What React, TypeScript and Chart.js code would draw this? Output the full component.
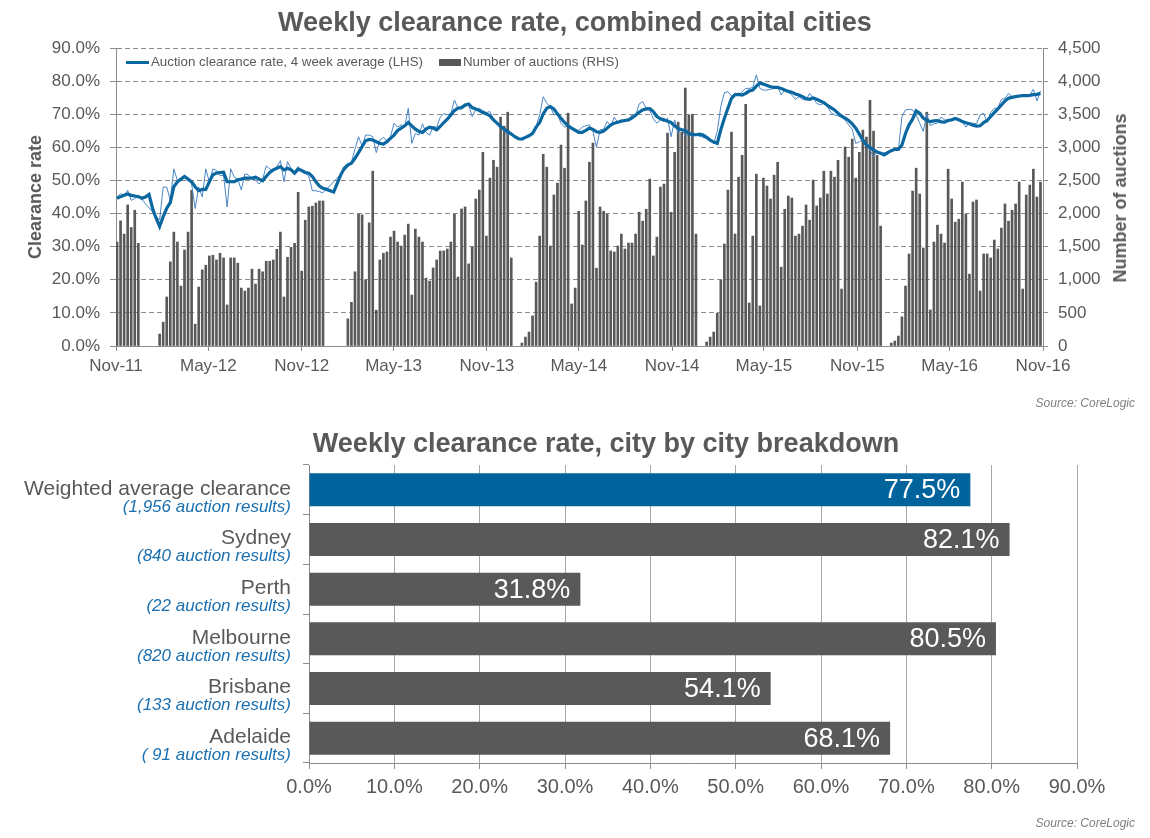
import React, { useEffect, useRef } from 'react';
import { Chart, registerables } from 'chart.js';

Chart.register(...registerables);

const FONT = '"Liberation Sans", Arial, Helvetica, sans-serif';
const TEXT = '#595959';
const AXIS = '#8c8c8c';
const BAR_GREY = '#595959';
const AVG_BLUE = '#0a67a0';
const WEEKLY_BLUE = '#4a86c8';
const BAR_BLUE = '#00639b';
const SUB_BLUE = '#1a6fb0';

// ---------- Top chart data ----------
const tickLabels = ['Nov-11', 'May-12', 'Nov-12', 'May-13', 'Nov-13', 'May-14', 'Nov-14', 'May-15', 'Nov-15', 'May-16', 'Nov-16'];
const tickDates = ['2011-11-01', '2012-05-01', '2012-11-01', '2013-05-01', '2013-11-01', '2014-05-01', '2014-11-01', '2015-05-01', '2015-11-01', '2016-05-01', '2016-11-01'];
const firstWeekDate = '2011-11-03';

// Number of auctions per week (RHS)
const auctions: (number | null)[] = [
  1570, 1890, 1690, 2130, 1790, 2050, 1550, null, null, null,
  null, null, 180, 360, 740, 1270, 1720, 1570, 905, 1450,
  1720, 2350, 330, 890, 1150, 1220, 1360, 1370, 1300, 1400,
  1330, 620, 1330, 1330, 1250, 875, 830, 875, 1160, 935,
  1160, 1120, 1280, 1280, 1300, 1460, 1720, 740, 1340, 1490,
  1550, 2320, 1130, 1900, 2100, 2110, 2160, 2190, 2190, null,
  null, null, null, null, null, 410, 660, 1120, 1990, 1980,
  1000, 1860, 2640, 540, 1300, 1400, 1420, 1645, 1735, 1570,
  1510, 1675, 1840, 770, 1765, 1645, 1570, 1025, 980, 1180,
  1300, 1435, 1435, 1465, 1570, 1990, 1040, 2070, 2100, 1240,
  1495, 2220, 2355, 2925, 1660, 2535, 2805, 2700, 3455, 3320,
  3530, 1330, null, null, 45, 135, 210, 455, 965, 1660,
  2895, 2700, 1510, 2280, 2460, 3035, 2685, 3515, 635, 875,
  2035, 1525, 2190, 2775, 3065, 1175, 2100, 2035, 1990, 1435,
  1420, 1510, 1690, 1465, 1555, 1555, 1690, 2020, 1885, 2065,
  2520, 1360, 1645, 2400, 2445, 3215, 2020, 2925, 3380, 3230,
  3895, 3485, 3500, 1690, null, null, 60, 135, 210, 495,
  995, 1540, 2355, 3230, 1690, 2550, 2880, 3650, 650, 1660,
  2595, 605, 2535, 2415, 2220, 2580, 2775, 1190, 2065, 2265,
  2235, 1660, 1690, 1810, 2130, 1900, 2505, 2115, 2235, 2640,
  2295, 2640, 2550, 2805, 860, 3005, 2850, 3125, 2535, 2925,
  3260, 3155, 3710, 3245, 2880, 1810, null, null, 45, 75,
  150, 440, 905, 1390, 2340, 2685, 2295, 1480, 3530, 545,
  1570, 1825, 1690, 1555, 2670, 2220, 1870, 1915, 2475, 1990,
  1085, 2175, 2205, 830, 1390, 1390, 1330, 1600, 1465, 1780,
  2145, 1885, 2050, 2145, 2475, 860, 2280, 2430, 2670, 2250,
  2475,
];

// Auction clearance rate, 4 week average (LHS, %)
const avgRate: (number | null)[] = [
  44.6, 45.1, 45.5, 45.9, 45.5, 45.3, 45.1, 44.6, 45.0, 45.8,
  41.6, 38.6, 36.1, 39.1, 41.6, 43.3, 48.1, 49.6, 50.4, 51.2,
  50.4, 49.6, 48.1, 46.9, 47.3, 47.3, 49.6, 51.7, 52.2, 52.4,
  52.5, 49.6, 49.6, 49.6, 50.2, 50.4, 50.7, 50.7, 50.7, 51.0,
  50.4, 49.9, 51.2, 52.4, 53.2, 53.7, 54.2, 53.2, 53.7, 53.2,
  52.2, 53.4, 53.0, 52.4, 52.2, 51.2, 49.6, 48.3, 47.6, 47.3,
  46.9, 46.5, 49.1, 51.7, 53.7, 54.7, 55.2, 56.7, 58.4, 60.2,
  62.0, 62.4, 62.2, 61.7, 61.2, 61.0, 61.7, 62.7, 63.7, 65.1,
  65.8, 66.5, 67.5, 66.5, 65.5, 64.8, 64.5, 65.5, 66.1, 65.8,
  65.3, 66.3, 67.5, 68.5, 69.8, 71.1, 71.8, 72.0, 72.8, 73.1,
  72.0, 71.6, 71.1, 70.5, 70.1, 69.5, 68.3, 67.3, 66.3, 65.5,
  64.8, 64.0, 63.2, 62.6, 62.5, 63.0, 63.5, 64.2, 66.1, 67.5,
  70.1, 71.8, 72.3, 71.6, 70.1, 68.8, 67.5, 66.5, 65.8, 65.1,
  64.5, 64.5, 65.1, 65.8, 65.4, 64.7, 64.5, 64.9, 65.8, 66.7,
  67.3, 67.6, 67.9, 68.1, 68.3, 68.9, 69.7, 70.6, 71.3, 71.6,
  71.7, 70.8, 69.3, 68.6, 68.3, 67.9, 67.5, 66.5, 65.7, 65.3,
  65.1, 64.2, 63.9, 63.8, 64.0, 63.7, 63.0, 62.2, 61.6, 61.2,
  65.3, 68.8, 71.8, 74.8, 75.9, 76.0, 75.8, 76.3, 77.0, 77.3,
  78.5, 79.4, 79.1, 78.7, 78.3, 78.1, 78.1, 77.8, 77.3, 76.9,
  76.6, 76.1, 75.8, 75.3, 74.7, 74.5, 74.9, 74.5, 74.0, 73.5,
  72.7, 72.0, 71.3, 70.3, 69.4, 68.8, 68.1, 67.1, 65.8, 64.0,
  62.2, 60.7, 60.0, 59.2, 58.6, 58.2, 57.7, 58.4, 59.0, 59.4,
  59.4, 60.7, 64.2, 66.8, 68.5, 71.0, 70.3, 68.8, 68.1, 67.8,
  68.0, 68.1, 67.7, 67.6, 68.1, 68.3, 68.7, 68.3, 67.8, 67.4,
  67.1, 66.7, 66.4, 66.5, 67.5, 68.1, 69.3, 70.5, 71.6, 72.8,
  74.0, 74.8, 75.1, 75.3, 75.5, 75.6, 75.6, 75.7, 75.9, 76.0,
  76.3,
];

// Weekly clearance rate (LHS, %)
const weeklyRate: (number | null)[] = [
  45.0, 46.0, 45.5, 47.0, 44.0, 44.5, 45.5, null, null, null,
  null, null, 38.0, 48.0, 48.0, 44.0, 53.5, 50.0, 50.0, 51.0,
  50.0, 49.0, 41.5, 48.0, 45.0, 53.5, 49.5, 53.5, 53.0, 51.5,
  51.5, 42.0, 53.5, 51.0, 50.4, 47.1, 52.0, 51.7, 50.4, 50.2,
  48.9, 50.2, 54.4, 53.5, 53.0, 54.2, 56.0, 49.6, 55.7, 53.7,
  52.7, 54.2, 52.7, 52.2, 51.2, 46.9, 46.9, 46.6, 46.3, null,
  null, null, null, null, null, 54.0, 55.5, 59.5, 63.2, 60.4,
  63.7, 63.7, 63.2, 58.4, 62.2, 63.0, 62.0, 63.2, 67.3, 66.1,
  66.8, 66.1, 71.8, 61.2, 64.2, 63.7, 67.1, 64.5, 63.7, 66.3,
  66.1, 69.1, 70.1, 69.9, 70.1, 74.3, 71.8, 71.5, 72.3, 72.8,
  69.3, 71.3, 71.8, 71.1, 70.5, 70.8, 68.5, 67.3, 65.8, 65.1,
  63.7, 64.0, null, null, 62.4, 63.0, 63.7, 64.7, 66.3, 69.8,
  75.3, 73.3, 72.3, 69.8, 70.1, 67.3, 66.1, 66.5, 65.5, 65.5,
  65.1, 66.1, 66.5, 66.8, 64.8, 60.0, 65.3, 65.5, 67.8, 66.5,
  69.1, 67.5, 68.3, 67.8, 68.3, 69.8, 69.5, 73.1, 73.8, 71.8,
  71.3, 68.6, 67.3, 68.3, 67.8, 68.8, 63.2, 68.3, 64.2, 65.8,
  63.2, 64.0, 63.2, 63.7, null, null, 62.7, 62.2, 61.2, 64.8,
  72.3, 76.5, 76.8, 75.5, 76.3, 75.8, 76.8, 77.8, 77.8, 78.1,
  81.9, 77.8, 77.3, 77.3, 77.5, 77.8, 78.3, 75.8, 77.3, 76.8,
  75.8, 74.5, 75.3, 74.5, 74.3, 76.3, 74.8, 73.3, 72.8, 73.3,
  72.3, 70.5, 69.8, 69.5, 69.2, 68.1, 66.8, 65.5, 61.2, 61.7,
  62.2, 60.7, 59.2, 57.2, 58.7, 58.2, null, null, 58.7, 59.2,
  59.2, 69.3, 71.3, 71.5, 71.3, 69.8, 67.3, 64.8, 70.1, 66.5,
  67.1, 67.3, 69.1, 68.3, 68.3, 68.5, 68.8, 68.3, 67.8, 66.1,
  67.3, 67.3, 67.1, 69.8, 70.3, 67.5, 70.5, 71.8, 71.8, 74.5,
  74.8, 76.3, 75.3, 75.1, 75.3, 75.5, 75.5, 75.8, 77.5, 74.0,
  77.0,
];

const rateTicks = [0, 10, 20, 30, 40, 50, 60, 70, 80, 90];

// ---------- Bottom chart data ----------
const cities = ['Weighted average clearance', 'Sydney', 'Perth', 'Melbourne', 'Brisbane', 'Adelaide'];
const cityResults = ['(1,956 auction results)', '(840 auction results)', '(22 auction results)', '(820 auction results)', '(133 auction results)', '( 91 auction results)'];
const cityRates = [77.5, 82.1, 31.8, 80.5, 54.1, 68.1];

const DAY_MS = 86400000;
const originMs = Date.parse(tickDates[0]);
const toWeeks = (iso: string) => (Date.parse(iso) - originMs) / (7 * DAY_MS);
const tickWeeks = tickDates.map(toWeeks);
const firstWeek = toWeeks(firstWeekDate);

const pct = (v: any) => Number(v).toFixed(1) + '%';

const cityLabelPlugin = {
  id: 'cityLabels',
  afterDatasetsDraw(chart: any) {
    const { ctx, chartArea } = chart;
    const yScale = chart.scales.y;
    const meta = chart.getDatasetMeta(0);
    ctx.save();
    ctx.textAlign = 'right';
    ctx.textBaseline = 'middle';
    cities.forEach((name, i) => {
      const yc = yScale.getPixelForValue(i);
      const lx = chartArea.left - 18;
      ctx.fillStyle = TEXT;
      ctx.font = `21px ${FONT}`;
      ctx.fillText(name, lx, yc - 1);
      ctx.fillStyle = SUB_BLUE;
      ctx.font = `italic 17px ${FONT}`;
      ctx.fillText(cityResults[i], lx, yc + 17);
      const bar = meta.data[i];
      ctx.fillStyle = '#ffffff';
      ctx.font = `27px ${FONT}`;
      ctx.fillText(pct(cityRates[i]), bar.x - 10, yc + 1);
    });
    ctx.restore();
  },
};

export default function App() {
  const topRef = useRef<HTMLCanvasElement | null>(null);
  const bottomRef = useRef<HTMLCanvasElement | null>(null);

  useEffect(() => {
    const barData: any[] = [];
    auctions.forEach((v, i) => {
      if (v !== null) barData.push({ x: firstWeek + i, y: v });
    });
    const avgData = avgRate.map((v, i) => ({ x: firstWeek + i, y: v }));
    const weeklyData = weeklyRate.map((v, i) => ({ x: firstWeek + i, y: v }));

    const top = new Chart(topRef.current as HTMLCanvasElement, {
      type: 'bar',
      data: {
        datasets: [
          {
            type: 'line',
            label: 'Auction clearance rate, 4 week average (LHS)',
            data: avgData,
            borderColor: AVG_BLUE,
            backgroundColor: AVG_BLUE,
            borderWidth: 3.2,
            pointRadius: 0,
            tension: 0,
            spanGaps: true,
            yAxisID: 'y',
            order: 0,
          } as any,
          {
            type: 'line',
            label: 'Weekly clearance rate',
            data: weeklyData,
            borderColor: WEEKLY_BLUE,
            backgroundColor: WEEKLY_BLUE,
            borderWidth: 1,
            pointRadius: 0,
            tension: 0,
            spanGaps: true,
            yAxisID: 'y',
            order: 1,
          } as any,
          {
            type: 'bar',
            label: 'Number of auctions (RHS)',
            data: barData,
            backgroundColor: BAR_GREY,
            barThickness: 2,
            yAxisID: 'y2',
            order: 2,
          } as any,
        ],
      },
      options: {
        animation: false,
        responsive: false,
        maintainAspectRatio: false,
        layout: { padding: { top: 48, left: 0, right: 0, bottom: 0 } },
        plugins: { legend: { display: false }, tooltip: { enabled: false }, title: { display: false } },
        scales: {
          x: {
            type: 'linear',
            min: tickWeeks[0],
            max: tickWeeks[tickWeeks.length - 1],
            offset: false,
            afterBuildTicks: (s: any) => {
              s.ticks = tickWeeks.map((v) => ({ value: v }));
            },
            afterFit: (s: any) => {
              s.height = 54;
            },
            ticks: {
              autoSkip: false,
              maxRotation: 0,
              padding: 5,
              color: TEXT,
              font: { family: FONT, size: 17 },
              callback: (_v: any, i: number) => tickLabels[i],
            },
            grid: { offset: false, drawOnChartArea: false, drawTicks: true, tickLength: 5, color: AXIS },
            border: { color: AXIS, width: 1 },
          } as any,
          y: {
            position: 'left',
            min: 0,
            max: 90,
            afterBuildTicks: (s: any) => {
              s.ticks = rateTicks.map((v) => ({ value: v }));
            },
            afterFit: (s: any) => {
              s.width = 116;
            },
            ticks: { padding: 10, color: TEXT, font: { family: FONT, size: 17 }, callback: (v: any) => pct(v) },
            grid: {
              color: (c: any) => (c.tick && c.tick.value === 0 ? 'rgba(0,0,0,0)' : AXIS),
              tickColor: AXIS,
              tickLength: 6,
              lineWidth: 1,
            },
            border: { color: AXIS, dash: [5, 3] },
          } as any,
          y2: {
            position: 'right',
            min: 0,
            max: 4500,
            ticks: {
              stepSize: 500,
              padding: 10,
              color: TEXT,
              font: { family: FONT, size: 17 },
              callback: (v: any) => Number(v).toLocaleString('en-US'),
            },
            afterFit: (s: any) => {
              s.width = 107;
            },
            grid: { drawOnChartArea: false, drawTicks: true, tickLength: 5, color: AXIS },
            border: { color: AXIS },
          } as any,
        },
      },
    });

    const bottom = new Chart(bottomRef.current as HTMLCanvasElement, {
      type: 'bar',
      data: {
        labels: cities,
        datasets: [
          {
            data: cityRates,
            backgroundColor: cities.map((_c, i) => (i === 0 ? BAR_BLUE : BAR_GREY)),
            barPercentage: 0.665,
            categoryPercentage: 1,
          },
        ],
      },
      options: {
        indexAxis: 'y',
        animation: false,
        responsive: false,
        maintainAspectRatio: false,
        layout: { padding: { top: 45, right: 73, left: 0, bottom: 0 } },
        plugins: { legend: { display: false }, tooltip: { enabled: false } },
        scales: {
          x: {
            min: 0,
            max: 90,
            afterBuildTicks: (s: any) => {
              s.ticks = rateTicks.map((v) => ({ value: v }));
            },
            afterFit: (s: any) => {
              s.height = 75;
            },
            ticks: { padding: 6, color: TEXT, font: { family: FONT, size: 20 }, callback: (v: any) => pct(v) },
            grid: { color: '#a6a6a6', tickColor: AXIS, tickLength: 6 },
            border: { color: AXIS },
          } as any,
          y: {
            afterFit: (s: any) => {
              s.width = 309;
            },
            ticks: { display: false },
            grid: { offset: true, drawOnChartArea: false, drawTicks: true, tickLength: 6, color: AXIS },
            border: { color: AXIS },
          } as any,
        },
      },
      plugins: [cityLabelPlugin],
    });

    return () => {
      top.destroy();
      bottom.destroy();
    };
  }, []);

  const abs = (s: React.CSSProperties): React.CSSProperties => ({ position: 'absolute', ...s });
  const titleStyle: React.CSSProperties = {
    fontFamily: FONT,
    fontWeight: 'bold',
    fontSize: 27,
    color: TEXT,
    whiteSpace: 'nowrap',
    lineHeight: '32px',
  };
  const sourceStyle: React.CSSProperties = {
    fontFamily: FONT,
    fontStyle: 'italic',
    fontSize: 12,
    color: '#7f7f7f',
    whiteSpace: 'nowrap',
    lineHeight: '14px',
  };
  const axisTitle: React.CSSProperties = {
    fontFamily: FONT,
    fontWeight: 'bold',
    fontSize: 18,
    color: TEXT,
    whiteSpace: 'nowrap',
    lineHeight: '20px',
  };
  const legendText: React.CSSProperties = {
    fontFamily: FONT,
    fontSize: 13.3,
    color: TEXT,
    whiteSpace: 'nowrap',
    lineHeight: '16px',
  };

  return (
    <div style={{ position: 'absolute', left: 0, top: 0, width: 1150, height: 838, background: '#ffffff', overflow: 'hidden' }}>
      <canvas ref={topRef} width={1150} height={400} style={abs({ left: 0, top: 0, width: 1150, height: 400 })} />
      <canvas ref={bottomRef} width={1150} height={418} style={abs({ left: 0, top: 420, width: 1150, height: 418 })} />

      <div style={abs({ ...titleStyle, left: 575, top: 6, transform: 'translateX(-50%)' })}>
        Weekly clearance rate, combined capital cities
      </div>
      <div style={abs({ ...titleStyle, left: 606, top: 427, transform: 'translateX(-50%)' })}>
        Weekly clearance rate, city by city breakdown
      </div>

      <div style={abs({ ...axisTitle, left: 35, top: 197, transform: 'translate(-50%, -50%) rotate(-90deg)' })}>
        Clearance rate
      </div>
      <div style={abs({ ...axisTitle, left: 1120, top: 198, transform: 'translate(-50%, -50%) rotate(-90deg)' })}>
        Number of auctions
      </div>

      <div style={abs({ left: 126, top: 61, width: 23, height: 3, background: AVG_BLUE })} />
      <div style={abs({ ...legendText, left: 151, top: 54 })}>Auction clearance rate, 4 week average (LHS)</div>
      <div style={abs({ left: 439, top: 59, width: 22, height: 7, background: BAR_GREY })} />
      <div style={abs({ ...legendText, left: 463, top: 54 })}>Number of auctions (RHS)</div>

      <div style={abs({ ...sourceStyle, right: 15, top: 396 })}>Source: CoreLogic</div>
      <div style={abs({ ...sourceStyle, right: 15, top: 816 })}>Source: CoreLogic</div>
    </div>
  );
}
